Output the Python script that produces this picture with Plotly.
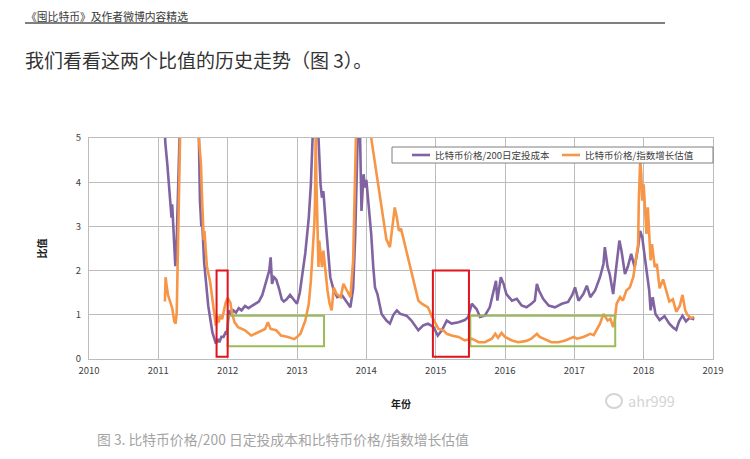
import plotly.graph_objects as go

# ---------------- data ----------------
year_ticks = [2010, 2011, 2012, 2013, 2014, 2015, 2016, 2017, 2018, 2019]
value_ticks = [0, 1, 2, 3, 4, 5]

series_names = ["比特币价格/200日定投成本", "比特币价格/指数增长估值"]

# 比特币价格/200日定投成本 (purple)
dca_years = [
    2011.07, 2011.10, 2011.13, 2011.15, 2011.17, 2011.19, 2011.20, 2011.22, 2011.245, 2011.26,
    2011.28, 2011.31, 2011.34, 2011.45, 2011.55, 2011.585, 2011.60, 2011.62, 2011.63, 2011.645,
    2011.66, 2011.69, 2011.72, 2011.75, 2011.78, 2011.81, 2011.83, 2011.86, 2011.88, 2011.91,
    2011.94, 2011.97, 2011.99, 2012.02, 2012.05, 2012.08, 2012.12, 2012.16, 2012.20, 2012.25,
    2012.30, 2012.35, 2012.40, 2012.45, 2012.50, 2012.55, 2012.60, 2012.62, 2012.64, 2012.67,
    2012.70, 2012.74, 2012.78, 2012.81, 2012.85, 2012.90, 2012.95, 2013.00, 2013.04, 2013.07,
    2013.12, 2013.17, 2013.20, 2013.225, 2013.27, 2013.31, 2013.34, 2013.36, 2013.38, 2013.42,
    2013.45, 2013.48, 2013.53, 2013.58, 2013.65, 2013.72, 2013.77, 2013.81, 2013.84, 2013.87,
    2013.89, 2013.91, 2013.93, 2013.96, 2013.98, 2014.00, 2014.03, 2014.05, 2014.07, 2014.10,
    2014.125, 2014.16, 2014.22, 2014.29, 2014.34, 2014.39, 2014.44, 2014.49, 2014.58, 2014.65,
    2014.75, 2014.82, 2014.89, 2014.97, 2015.03, 2015.09, 2015.16, 2015.23, 2015.33, 2015.42,
    2015.47, 2015.52, 2015.59, 2015.64, 2015.71, 2015.78, 2015.83, 2015.87, 2015.89, 2015.94,
    2015.98, 2016.02, 2016.10, 2016.17, 2016.24, 2016.31, 2016.38, 2016.43, 2016.46, 2016.49,
    2016.55, 2016.63, 2016.72, 2016.82, 2016.91, 2016.97, 2017.01, 2017.06, 2017.13, 2017.18,
    2017.23, 2017.30, 2017.37, 2017.42, 2017.44, 2017.48, 2017.51, 2017.56, 2017.61, 2017.65,
    2017.68, 2017.73, 2017.77, 2017.82, 2017.87, 2017.92, 2017.95, 2017.98, 2018.01, 2018.05,
    2018.08, 2018.10, 2018.13, 2018.17, 2018.23, 2018.30, 2018.37, 2018.42, 2018.47, 2018.51,
    2018.56, 2018.61, 2018.66, 2018.73,
]
dca_ratio = [
    6.5, 4.9, 4.4, 4.0, 3.4, 3.2, 3.5, 2.7, 2.1, 2.4,
    3.5, 5.0, 7.0, 12.0, 7.0, 5.0, 3.6, 3.0, 3.2, 2.6,
    2.2, 1.7, 1.2, 0.9, 0.6, 0.45, 0.35, 0.45, 0.38, 0.5,
    0.5, 0.6, 0.58, 1.1, 1.0, 1.1, 1.05, 1.15, 1.1, 1.2,
    1.15, 1.2, 1.25, 1.3, 1.45, 1.7, 2.0, 2.3, 1.7, 1.85,
    1.8, 1.6, 1.35, 1.3, 1.35, 1.45, 1.35, 1.25, 1.5, 1.85,
    2.4, 3.2, 3.95, 5.0, 8.0, 5.0, 3.95, 3.65, 3.8, 2.98,
    2.38, 1.85, 1.55, 1.4, 1.44, 1.29, 1.17, 1.6, 2.8, 4.7,
    6.0, 5.0, 3.35, 4.18, 3.88, 4.05, 3.58, 3.13, 2.83, 2.08,
    1.62, 1.47, 1.02, 0.87, 0.8, 1.0, 1.1, 1.02, 0.98, 0.87,
    0.65, 0.76, 0.8, 0.72, 0.53, 0.65, 0.87, 0.8, 0.83, 0.88,
    0.95, 1.25, 1.13, 0.95, 0.98, 1.17, 1.47, 1.77, 1.32, 1.85,
    1.7, 1.47, 1.32, 1.36, 1.21, 1.17, 1.25, 1.32, 1.7, 1.55,
    1.36, 1.21, 1.17, 1.25, 1.29, 1.45, 1.62, 1.32, 1.47, 1.66,
    1.4, 1.55, 1.85, 2.15, 2.53, 2.08, 1.92, 1.47, 2.15, 2.68,
    2.45, 1.92, 2.08, 2.38, 2.08, 2.53, 2.9, 2.75, 2.38, 1.92,
    1.55, 1.1, 1.4, 1.02, 0.88, 0.97, 0.8, 0.72, 0.66, 0.85,
    0.98, 0.85, 0.93, 0.9,
]

# 比特币价格/指数增长估值 (orange)
exp_years = [
    2011.095, 2011.105, 2011.12, 2011.14, 2011.17, 2011.20, 2011.23, 2011.25, 2011.265, 2011.28,
    2011.30, 2011.32, 2011.35, 2011.45, 2011.56, 2011.585, 2011.615, 2011.63, 2011.64, 2011.655,
    2011.665, 2011.68, 2011.70, 2011.72, 2011.75, 2011.78, 2011.80, 2011.83, 2011.85, 2011.87,
    2011.895, 2011.92, 2011.95, 2011.97, 2012.00, 2012.04, 2012.06, 2012.10, 2012.15, 2012.25,
    2012.34, 2012.44, 2012.54, 2012.58, 2012.62, 2012.70, 2012.77, 2012.87, 2012.96, 2013.00,
    2013.05, 2013.12, 2013.17, 2013.20, 2013.23, 2013.25, 2013.26, 2013.27, 2013.28, 2013.29,
    2013.31, 2013.32, 2013.34, 2013.36, 2013.38, 2013.41, 2013.44, 2013.47, 2013.50, 2013.53,
    2013.57, 2013.63, 2013.67, 2013.72, 2013.77, 2013.81, 2013.83, 2013.85, 2013.95, 2014.07,
    2014.14, 2014.19, 2014.24, 2014.29, 2014.34, 2014.37, 2014.41, 2014.44, 2014.47, 2014.50,
    2014.53, 2014.58, 2014.65, 2014.70, 2014.75, 2014.80, 2014.85, 2014.89, 2014.94, 2014.99,
    2015.04, 2015.11, 2015.16, 2015.23, 2015.33, 2015.42, 2015.52, 2015.62, 2015.71, 2015.81,
    2015.86, 2015.90, 2015.95, 2016.00, 2016.10, 2016.19, 2016.31, 2016.38, 2016.46, 2016.50,
    2016.58, 2016.67, 2016.77, 2016.87, 2016.99, 2017.04, 2017.13, 2017.23, 2017.28, 2017.32,
    2017.37, 2017.42, 2017.45, 2017.48, 2017.52, 2017.56, 2017.58, 2017.61, 2017.66, 2017.70,
    2017.75, 2017.80, 2017.85, 2017.89, 2017.92, 2017.93, 2017.95, 2017.965, 2017.98, 2018.00,
    2018.02, 2018.04, 2018.06, 2018.08, 2018.10, 2018.12, 2018.16, 2018.19, 2018.23, 2018.28,
    2018.32, 2018.37, 2018.42, 2018.47, 2018.52, 2018.56, 2018.60, 2018.63, 2018.68, 2018.73,
]
exp_ratio = [
    1.3, 1.85, 1.65, 1.45, 1.3, 1.15, 0.85, 0.8, 1.05, 2.2,
    3.6, 5.0, 8.0, 14.0, 8.0, 5.0, 4.4, 3.67, 3.22, 2.69,
    2.9, 2.47, 2.1, 1.95, 1.72, 1.35, 1.05, 0.75, 0.98, 0.83,
    0.98, 0.9, 1.12, 1.27, 1.38, 1.27, 1.05, 0.83, 0.72, 0.65,
    0.53, 0.6, 0.68, 0.83, 0.68, 0.65, 0.53, 0.5, 0.45, 0.5,
    0.57, 0.87, 1.25, 1.77, 2.53, 3.05, 3.58, 5.2, 4.0, 3.2,
    2.08, 2.68, 2.3, 2.08, 2.45, 1.92, 1.55, 1.25, 1.1, 1.62,
    1.47, 1.4, 1.7, 1.55, 1.4, 2.23, 3.58, 5.0, 12.0, 5.0,
    4.28, 3.83, 3.3, 2.7, 2.53, 2.98, 3.43, 3.2, 2.9, 2.95,
    2.75, 2.45, 2.0, 1.62, 1.32, 1.25, 1.21, 1.17, 0.98, 0.83,
    0.68, 0.65, 0.57, 0.53, 0.5, 0.42, 0.46, 0.38, 0.38, 0.46,
    0.57, 0.48, 0.59, 0.5, 0.42, 0.38, 0.41, 0.46, 0.57, 0.5,
    0.44, 0.38, 0.38, 0.42, 0.5, 0.46, 0.5, 0.57, 0.54, 0.65,
    0.8, 1.02, 0.95, 0.87, 0.91, 0.72, 0.85, 1.25, 1.4, 1.32,
    1.55, 1.62, 1.85, 2.23, 2.6, 3.58, 4.5, 4.2, 3.58, 3.95,
    3.2, 2.83, 3.43, 2.68, 2.23, 2.6, 2.08, 2.15, 1.6, 1.8,
    1.55, 1.3, 1.35, 1.07, 1.2, 1.45, 1.1, 1.0, 0.93, 0.95,
]

# highlighted windows: (x0, x1, y0, y1)
red_windows = [(2011.84, 2012.0, 0.05, 2.0), (2014.96, 2015.48, 0.05, 2.0)]
green_windows = [(2012.0, 2013.39, 0.29, 0.98), (2015.5, 2017.59, 0.29, 0.98)]

header_text = "《囤比特币》及作者微博内容精选"
intro_text = "我们看看这两个比值的历史走势（图 3）。"
caption_text = "图 3. 比特币价格/200 日定投成本和比特币价格/指数增长估值"
x_title = "年份"
y_title = "比值"
watermark = "ahr999"

# ---------------- layout helpers ----------------
# the page body adds an 8px margin, so the figure is drawn 8px smaller
OFF = 8
W, H = 750 - OFF, 459 - OFF
PL, PR, PT, PB = 89, 713, 138, 359          # plot box in window pixels
L, R, T = PL - OFF, W - (PR - OFF), PT - OFF
B = H - (PB - OFF)
PW, PH = PR - PL, PB - PT


def px(x):
    return (x - PL) / PW


def py(y):
    return (PB - y) / PH


CJK = "Noto Sans CJK SC, Noto Sans, sans-serif"
PURPLE = "#8064A2"
ORANGE = "#F79646"
colors = [PURPLE, ORANGE]

fig = go.Figure()
fig.add_trace(go.Scatter(x=dca_years, y=dca_ratio, mode="lines", name=series_names[0],
                         line=dict(color=PURPLE, width=2.6)))
fig.add_trace(go.Scatter(x=exp_years, y=exp_ratio, mode="lines", name=series_names[1],
                         line=dict(color=ORANGE, width=2.6)))

for x0, x1, y0, y1 in green_windows:
    fig.add_shape(type="rect", x0=x0, x1=x1, y0=y0, y1=y1, xref="x", yref="y",
                  line=dict(color="#9BBB59", width=2))
for x0, x1, y0, y1 in red_windows:
    fig.add_shape(type="rect", x0=x0, x1=x1, y0=y0, y1=y1, xref="x", yref="y",
                  line=dict(color="#E0141E", width=2))

# header rule
fig.add_shape(type="line", xref="paper", yref="paper", x0=px(25), x1=px(665), y0=py(23), y1=py(23),
              line=dict(color="#555555", width=1.3))

# legend box (drawn like the Excel legend)
fig.add_shape(type="rect", xref="paper", yref="paper", x0=px(392), x1=px(713), y0=py(163), y1=py(147),
              line=dict(color="#7f7f7f", width=1), fillcolor="white")
legend_items = [(412, 430, 433), (562, 580, 583)]
for (lx0, lx1, tx), name, col in zip(legend_items, series_names, colors):
    fig.add_shape(type="line", xref="paper", yref="paper", x0=px(lx0), x1=px(lx1), y0=py(155), y1=py(155),
                  line=dict(color=col, width=2.6))
    fig.add_annotation(text=name, x=px(tx), y=py(155), xref="paper", yref="paper",
                       xanchor="left", yanchor="middle", showarrow=False,
                       font=dict(family=CJK, size=9.5, color="#404040"))

# watermark logo outline
fig.add_shape(type="circle", xref="paper", yref="paper", x0=px(606), x1=px(622), y0=py(408), y1=py(394),
              line=dict(color="#d4d4d4", width=2))

annos = [
    dict(text=header_text, x=px(25), y=py(15.5), size=10.8, color="#3a3a3a"),
    dict(text=intro_text, x=px(24), y=py(60), size=19, color="#333333"),
    dict(text=caption_text, x=px(96), y=py(439), size=13.8, color="#a3a3a3"),
    dict(text=watermark, x=px(627), y=py(400), size=14.5, color="#d4d4d4"),
]
for a in annos:
    fig.add_annotation(text=a["text"], x=a["x"], y=a["y"], xref="paper", yref="paper",
                       xanchor="left", yanchor="middle", showarrow=False, borderpad=0,
                       font=dict(family=CJK, size=a["size"], color=a["color"]))

fig.update_layout(
    width=W, height=H,
    margin=dict(l=L, r=R, t=T, b=B, autoexpand=False),
    paper_bgcolor="white", plot_bgcolor="white",
    font=dict(family=CJK, color="#404040"),
    showlegend=False,
    xaxis=dict(range=[2010, 2019], tickvals=year_ticks, ticktext=[str(v) for v in year_ticks],
               showgrid=True, gridcolor="#bcbcbc", gridwidth=1, zeroline=False,
               showline=True, linecolor="#bcbcbc", mirror=True, automargin=False,
               tickfont=dict(size=9.5, color="#404040"), ticks="", ticklabelstandoff=3,
               title=dict(text="<b>" + x_title + "</b>", font=dict(size=10, color="#202020"), standoff=24)),
    yaxis=dict(range=[0, 5], tickvals=value_ticks, showgrid=True, gridcolor="#bcbcbc", gridwidth=1,
               zeroline=False, showline=True, linecolor="#bcbcbc", mirror=True, automargin=False,
               tickfont=dict(size=9.5, color="#404040"), ticks="", ticklabelstandoff=5,
               title=dict(text="<b>" + y_title + "</b>", font=dict(size=10, color="#202020"), standoff=27)),
)

fig.write_html("out.html")
